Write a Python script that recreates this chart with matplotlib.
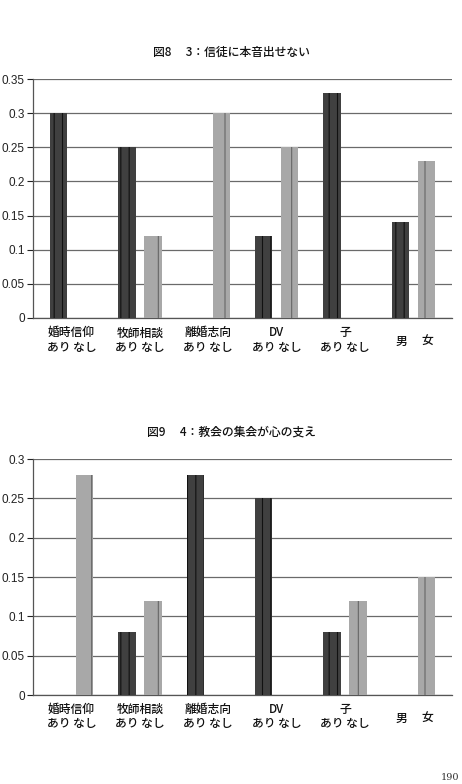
import matplotlib.pyplot as plt
import matplotlib.transforms as mtransforms
import numpy as np

plt.rcParams['font.family'] = ['Noto Sans CJK JP', 'DejaVu Sans']
plt.rcParams['hatch.linewidth'] = 0.8

# categories and values
categories = ['婚時信仰', '牧師相談', '離婚志向', 'DV', '子', '']
sub_labels = ['あり なし', 'あり なし', 'あり なし', 'あり なし', 'あり なし', '']

fig8_title = '図8　 3：信徒に本音出せない'
fig8_yes = [0.30, 0.25, 0.0, 0.12, 0.33, 0.14]
fig8_no = [0.0, 0.12, 0.30, 0.25, 0.0, 0.23]
fig8_ticks = [0, 0.05, 0.1, 0.15, 0.2, 0.25, 0.3, 0.35]

fig9_title = '図9　 4：教会の集会が心の支え'
fig9_yes = [0.0, 0.08, 0.28, 0.25, 0.08, 0.0]
fig9_no = [0.28, 0.12, 0.0, 0.0, 0.12, 0.15]
fig9_ticks = [0, 0.05, 0.1, 0.15, 0.2, 0.25, 0.3]

fig = plt.figure(figsize=(4.62, 7.84), dpi=100)

x = np.arange(len(categories))
offset = 0.19
width = 0.255


def draw_chart(rect, yes, no, ticks, title, title_y):
    ax = fig.add_axes(rect)
    ax.bar(x - offset, yes, width, color='#404040', edgecolor='#111111',
           hatch='||', linewidth=0, zorder=3)
    ax.bar(x + offset, no, width, color='#a8a8a8', edgecolor='#666666',
           hatch='|', linewidth=0, zorder=3)
    ax.set_xlim(-0.563, 5.563)
    ax.set_ylim(0, ticks[-1])
    ax.set_yticks(ticks)
    ax.set_yticklabels([f'{t:g}' for t in ticks], family='Liberation Sans')
    ax.yaxis.grid(True, color='#6a6a6a', linewidth=0.9, zorder=0)
    ax.tick_params(axis='y', length=4, width=0.8, labelsize=8.5, pad=2,
                   colors='#222222')
    ax.set_xticks([])
    for s in ['top', 'right']:
        ax.spines[s].set_visible(False)
    for s in ['left', 'bottom']:
        ax.spines[s].set_color('#555555')
        ax.spines[s].set_linewidth(0.9)

    trans = mtransforms.blended_transform_factory(ax.transData, ax.transAxes)
    for i, (cat, sub) in enumerate(zip(categories, sub_labels)):
        if cat:
            ax.text(i, -0.035, cat, transform=trans, ha='center', va='top',
                    fontsize=8.5, color='#111111', weight='medium')
            ax.text(i, -0.095, sub, transform=trans, ha='center', va='top',
                    fontsize=8.5, color='#111111', weight='medium')
    ax.text(5 - 0.17, -0.07, '男', transform=trans, ha='center',
            va='top', fontsize=8.5, color='#111111', weight='medium')
    ax.text(5 + 0.2, -0.07, '女', transform=trans, ha='center',
            va='top', fontsize=8.5, color='#111111', weight='medium')
    fig.text(0.502, title_y, title, ha='center', va='center', fontsize=8.5,
             color='#111111', weight='medium')
    return ax


draw_chart([33 / 462, (784 - 318) / 784, 419 / 462, 239 / 784],
           fig8_yes, fig8_no, fig8_ticks, fig8_title, 1 - 52 / 784)
draw_chart([33 / 462, (784 - 695) / 784, 419 / 462, 236 / 784],
           fig9_yes, fig9_no, fig9_ticks, fig9_title, 1 - 432 / 784)

fig.text(0.995, 1 - 777 / 784, '190', ha='right', va='center', fontsize=7,
         family='DejaVu Serif', color='#333333')

fig.savefig('out.png', dpi=100)
